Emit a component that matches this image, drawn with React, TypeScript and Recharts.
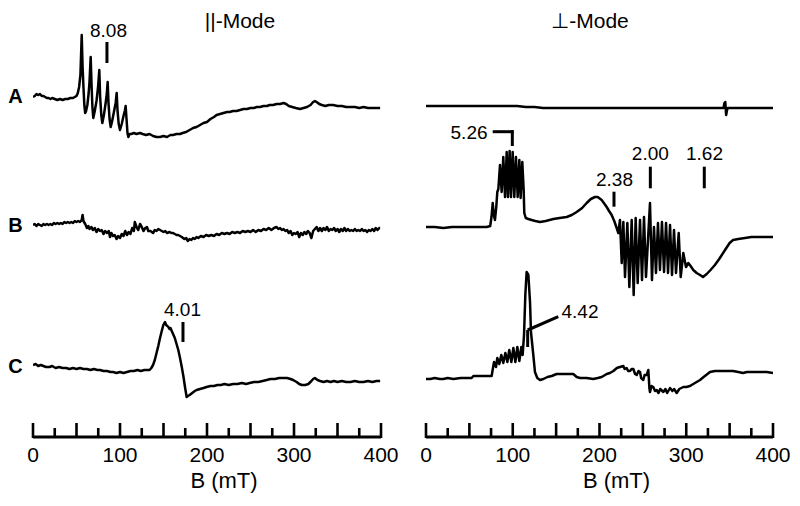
import React from 'react';
import { LineChart, Line, XAxis, YAxis, ReferenceLine, ReferenceDot, Label } from 'recharts';

type Pt = [number, number];

// ---------- axis ----------
const fieldTicks = [0, 25, 50, 75, 100, 125, 150, 175, 200, 225, 250, 275, 300, 325, 350, 375, 400];
const fieldLabels = [0, 100, 200, 300, 400];
const majorTicks = [0, 50, 100, 150, 200, 250, 300, 350, 400];

// ---------- parallel mode traces (B in mT, signal in arbitrary units) ----------
const parA: Pt[] = [
  [0, 0], [2, 1], [4, 3], [6, 2], [8, 3], [10, 1], [12, 1], [14, 0], [16, -1], [18, -1], [20, -2], [22, -1], [25, -2], [28, -3],
  [31, -2], [34, -3], [37, -2], [40, -2], [43, -1], [46, -1], [48, 0], [50, 1], [51.5, 4], [53, 10], [54.5, 22], [56, 62],
  [57, 30], [58, 10], [59, -8], [60, -16], [61, -14], [62.5, -8], [64, 4], [65, 16], [66.3, 40], [67.3, 12], [68.3, -10],
  [69.3, -21], [71, -14], [73, -4], [74.8, 10], [76.2, 27], [77.2, 0], [78.5, -18], [79.7, -26], [81.5, -18], [83.5, -6],
  [84.8, 3], [85.8, 15], [86.8, -6], [88, -22], [89.3, -30], [91, -24], [93, -15], [95, -6], [96.2, 4], [97.2, -14],
  [98.5, -27], [100, -33], [102, -27], [104, -19], [105.5, -14], [106.5, -9], [107.5, -22], [108.6, -36], [109.6, -40],
  [111, -37], [113, -37], [116, -36], [119, -37], [123, -36], [126, -37], [130, -38], [134, -37], [138, -39], [142, -40],
  [146, -40], [150, -39], [154, -40], [158, -38], [161, -38], [165, -37], [169, -37], [172, -36], [176, -35], [180, -33],
  [184, -31], [188, -30], [192, -28], [196, -26], [200, -25], [204, -22], [208, -20], [211, -18], [215, -17], [219, -16],
  [223, -15], [226, -15], [230, -14], [234, -14], [238, -13], [242, -12], [246, -12], [250, -11], [254, -11], [257, -10],
  [261, -10], [265, -9], [269, -9], [272, -8], [276, -8], [280, -7], [284, -7], [288, -6], [291, -7], [294, -9], [298, -10],
  [302, -11], [307, -12], [311, -11], [315, -10], [319, -8], [322, -5], [324, -4], [326, -5], [329, -7], [332, -8], [336, -9],
  [340, -8], [345, -8], [350, -9], [355, -9], [360, -10], [365, -10], [370, -10], [375, -11], [380, -10], [385, -11],
  [390, -11], [395, -11], [399, -11],
];

const parB: Pt[] = [
  [0, 0], [2, 1], [4, -1], [6, 1], [8, 0], [10, -1], [12, 1], [14, 0], [16, 1], [18, 0], [20, 1], [22, 0], [24, 2], [26, 1],
  [28, 2], [30, 1], [32, 2], [34, 1], [36, 3], [38, 2], [40, 3], [42, 2], [44, 3], [46, 2], [48, 4], [50, 3], [52, 4], [54, 3],
  [56, 5], [57, 10], [58, 4], [60, 1], [62, -3], [63.6, -1], [65, -4], [67, -2], [69, -5], [71, -3], [73, -7], [75, -4],
  [77, -6], [79, -5], [81, -9], [83, -6], [85, -8], [87, -6], [88.5, -12], [90, -8], [92, -11], [94, -10], [96, -14], [98, -11],
  [100, -13], [102, -9], [104, -11], [106, -6], [108, -10], [110, -7], [112, -9], [114, -3], [116, -6], [117, 3], [119, -2],
  [121, -5], [123, 1], [125, -2], [127, -6], [129, -3], [131, -2], [132.5, -6], [135, -6], [138, -8], [140, -5], [142, -6],
  [144, -4], [146, -5], [148, -6], [150, -7], [152, -6], [154, -8], [157, -7], [159, -8], [161, -8], [163, -9], [165, -10],
  [167, -10], [169, -11], [171, -12], [174, -14], [176, -13], [178, -16], [180, -14], [182, -15], [184, -13], [186, -14],
  [188, -12], [190, -13], [193, -11], [196, -12], [199, -10], [202, -11], [205, -10], [208, -11], [211, -9], [214, -10],
  [217, -8], [220, -9], [223, -8], [226, -9], [229, -7], [232, -8], [235, -7], [238, -8], [241, -6], [244, -7], [247, -6],
  [250, -7], [253, -5], [256, -7], [259, -5], [262, -6], [265, -4], [268, -5], [271, -3], [274, -5], [277, -3], [280, -2],
  [282, -4], [284, -3], [286, -5], [288, -4], [290, -6], [292, -5], [294, -8], [296, -6], [298, -10], [300, -8], [302, -9],
  [304, -7], [306, -12], [308, -8], [310, -10], [312, -7], [314, -9], [316, -6], [318, -8], [320, -13], [322, -6], [324, -4],
  [326, -2], [328, -6], [330, -3], [332, -6], [334, -3], [336, -5], [338, -2], [340, -6], [342, -4], [344, -5], [346, -3],
  [348, -6], [350, -4], [352, -7], [354, -4], [356, -6], [358, -3], [360, -6], [362, -4], [364, -6], [366, -5], [368, -6],
  [370, -4], [372, -6], [374, -5], [376, -6], [378, -4], [380, -6], [382, -5], [384, -7], [386, -5], [388, -6], [390, -4],
  [392, -6], [394, -3], [396, -5], [398, -3], [399, -3],
];

const parC: Pt[] = [
  [0, 0], [3, 1], [6, -1], [9, 0], [12, -1], [15, -2], [19, -2], [22, -1], [26, -3], [30, -2], [34, -3], [38, -3], [42, -4],
  [46, -3], [50, -4], [54, -3], [58, -4], [62, -4], [66, -5], [70, -4], [74, -5], [77, -5], [81, -6], [85, -6], [89, -7],
  [92, -7], [96, -8], [100, -7], [104, -8], [108, -7], [112, -6], [116, -6], [120, -5], [124, -6], [128, -5], [132, -5],
  [134, -5], [136, -3], [138, 0], [140, 5], [142, 12], [144, 19], [146, 27], [148, 34], [149.8, 40], [151.7, 43], [153, 40],
  [154.5, 39], [155.6, 38], [157, 36], [158, 37], [159, 35], [161, 31], [163, 27], [165, 21], [167, 15], [169, 7], [171, -2],
  [173, -12], [174.7, -22], [176.6, -32], [178, -31], [180, -30], [183, -28], [186, -26], [188, -25], [192, -24], [196, -23],
  [199.5, -22], [204, -21], [208, -21], [212, -20], [216, -20], [220, -19], [225, -20], [230, -19], [235, -19], [240, -18],
  [245, -19], [249, -18], [254, -17], [259, -17], [264, -16], [268.6, -15], [273, -14], [278, -14], [283, -13], [288, -13],
  [292, -13], [296, -14], [299, -15], [303, -17], [306, -19], [309, -20], [313, -20], [316.5, -19], [320, -16], [322, -14],
  [324, -13], [327, -15], [330, -16], [334, -17], [338, -16], [342, -17], [346, -16], [350, -17], [355, -16], [360, -17],
  [365, -17], [370, -16], [375, -17], [380, -17], [385, -16], [390, -17], [395, -16], [399, -16],
];

// ---------- perpendicular mode traces ----------
const perpA: Pt[] = [
  [0, 1], [20, 1], [40, 1], [60, 1], [80, 1], [95, 1], [105, 1], [115, 0], [125, 0], [135, -1], [150, -1], [170, -1],
  [200, -1], [230, -1], [260, -1], [290, -1], [320, -1], [340, -1], [343, -1], [344, 4], [345, 5], [346, -8], [347, -3],
  [348, -1], [360, -1], [380, -1], [400, -1],
];

const perpB: Pt[] = [
  [0, 0], [10, 0], [20, -1], [30, 0], [40, 0], [50, 0], [60, 0], [70, 0], [74, 1], [75.5, 10], [76.9, 24], [78.2, 12],
  [79.5, 7], [81, 20], [82.2, 35], [83.4, 38], [85.3, 62], [87.2, 35], [89.1, 70], [91.1, 30], [93, 75], [94.5, 30],
  [96.4, 76], [98, 30], [99.9, 75], [101.8, 30], [103.7, 70], [105.7, 30], [107.6, 67], [109.1, 29], [111, 65], [112.6, 37],
  [113.3, 14], [115, 9], [118, 8], [121.8, 7], [126, 6], [131.4, 5], [138, 6], [146.8, 8], [154, 9], [162.2, 10], [168, 12],
  [173.7, 15], [180, 19], [185.2, 24], [190, 28], [194.8, 30], [198, 30], [202.5, 27], [205, 24], [208.3, 20], [211, 16],
  [214, 12], [217, 6], [219.8, -1], [221.7, -6], [223.6, 7], [225.6, -36], [227.5, 5], [229.4, -50], [232.1, 4],
  [234.4, -60], [237.1, 7], [239.4, -68], [241.7, 9], [244, -56], [246.7, 7], [249, -53], [251.3, 10], [253.6, -50],
  [258.2, 24], [260.5, -53], [262.8, 0], [265.1, -46], [267.4, 4], [269.7, -43], [272, 5], [274.4, -45], [276.7, 4],
  [279, -46], [281.3, 2], [283.6, -48], [285.9, -3], [288.2, -46], [291.3, -6], [293.6, -50], [296.6, -26], [299.7, -40],
  [302.4, -36], [305, -39], [308.1, -43], [312, -46], [315.9, -48], [319.3, -50], [323.6, -47], [328, -43], [333, -38],
  [338, -32], [344.7, -23], [350, -16], [354, -13], [360, -12], [367.7, -11], [375, -10], [385, -10], [392, -10], [400, -10],
];

const perpC: Pt[] = [
  [0, -1], [5, -1], [10, 0], [16, -1], [20, -1], [25, 0], [31.5, -1], [40, 0], [45, 0], [52.6, 0], [54.6, 2], [60, 2],
  [65, 2], [70, 2], [75.7, 2], [76.8, 8], [78.4, 16], [80.7, 11], [82.2, 20], [84.5, 14], [86.8, 23], [89.1, 15], [91.5, 25],
  [93.8, 16], [96, 28], [98.4, 16], [100.7, 30], [103, 16], [105.3, 31], [107.6, 17], [109.9, 31], [111.4, 23], [113, 43],
  [114.5, 83], [116, 106], [118, 103], [119.9, 76], [121, 46], [123.7, 23], [125.6, 6], [128.3, 0], [131.4, -2], [135.3, -1],
  [140, 1], [144.9, 2], [150.6, 4], [160, 4], [169.8, 4], [173.7, 1], [177.5, 0], [185, 0], [192.9, -1], [198, 0],
  [202.5, 1], [208.3, 4], [212, 5], [216, 7], [220, 10], [223.6, 11], [227.5, 12], [229, 9], [231.3, 10], [233, 7],
  [235.2, 7], [237, 9], [239, 9], [241, 4], [242.9, 3], [245, 7], [246.7, 6], [248, 0], [250.5, -2], [252, 3], [254.4, 3],
  [256.3, 8], [257.5, -10], [258.2, -14], [260, -8], [262, -9], [264, -13], [265.9, -12], [268, -15], [270, -11],
  [273.6, -14], [276, -11], [278, -15], [281.3, -10], [284, -13], [286, -11], [289, -15], [292, -11], [296.6, -9], [300, -9],
  [304.3, -8], [310, -5], [315.9, -2], [320, 1], [327.4, 6], [333, 7], [338.9, 7], [345, 7], [353.9, 7], [360, 6],
  [365.4, 5], [370, 6], [376.9, 6], [385, 6], [392.7, 6], [400, 5],
];

// ---------- annotations (g-values), in data coordinates of their trace ----------
type Seg = { trace: string; from: Pt; to: Pt };
type Note = { trace: string; at: Pt; text: string };

const parSegs: Seg[] = [
  { trace: 'A', from: [85, 34], to: [85, 55] },
  { trace: 'C', from: [172.4, 23], to: [172.4, 43] },
];
const parNotes: Note[] = [
  { trace: 'A', at: [86.8, 67], text: '8.08' },
  { trace: 'C', at: [171.8, 56], text: '4.01' },
];
const perpSegs: Seg[] = [
  { trace: 'B', from: [76.9, 95.3], to: [101, 95.3] },
  { trace: 'B', from: [99.5, 96.8], to: [99.5, 81] },
  { trace: 'B', from: [216.7, 20.3], to: [216.7, 35.3] },
  { trace: 'B', from: [258.6, 38.7], to: [258.6, 60.3] },
  { trace: 'B', from: [320.8, 38.7], to: [320.8, 60.3] },
  { trace: 'C', from: [117.2, 31], to: [117.2, 48] },
  { trace: 'C', from: [117.2, 48], to: [152.5, 61.3] },
];
const perpNotes: Note[] = [
  { trace: 'B', at: [49.6, 94.5], text: '5.26' },
  { trace: 'B', at: [217.3, 48], text: '2.38' },
  { trace: 'B', at: [258.6, 74], text: '2.00' },
  { trace: 'B', at: [321, 74], text: '1.62' },
  { trace: 'C', at: [177.5, 66.3], text: '4.42' },
];

// ---------- layout ----------
const PLOT_BOTTOM = 437;
const FONT = '"Liberation Sans", Arial, Helvetica, sans-serif';

type Trace = { id: string; data: Pt[]; base: number };

const parTraces: Trace[] = [
  { id: 'A', data: parA, base: 97 },
  { id: 'B', data: parB, base: 225 },
  { id: 'C', data: parC, base: 365 },
];
const perpTraces: Trace[] = [
  { id: 'A', data: perpA, base: 107 },
  { id: 'B', data: perpB, base: 227 },
  { id: 'C', data: perpC, base: 378 },
];

function FieldTick(props: any) {
  const { x, y, payload } = props;
  const v = payload.value;
  const len = majorTicks.includes(v) ? 14 : 9;
  return (
    <g>
      <line x1={x} x2={x} y1={y + 1} y2={y - len} stroke="#000" strokeWidth={2.6} />
      {fieldLabels.includes(v) && (
        <text x={x} y={y + 25} textAnchor="middle" fontSize={21} fill="#000" fontFamily={FONT}>
          {v}
        </text>
      )}
    </g>
  );
}

function Panel(props: {
  left: number;
  mLeft: number;
  mRight: number;
  traces: Trace[];
  segs: Seg[];
  notes: Note[];
}) {
  const { left, mLeft, mRight, traces, segs, notes } = props;
  return (
    <div style={{ position: 'absolute', left, top: 0 }}>
      <LineChart width={400} height={506} margin={{ top: 0, right: mRight, bottom: 0, left: mLeft }}>
        <XAxis
          type="number"
          dataKey="b"
          domain={[0, 400]}
          allowDataOverflow
          ticks={fieldTicks}
          interval={0}
          tickSize={0}
          tickMargin={0}
          tickLine={false}
          tick={<FieldTick />}
          axisLine={{ stroke: '#000', strokeWidth: 3 }}
          height={69}
        >
          <Label value="B (mT)" position="insideBottom" offset={18} dx={17} fontSize={22} fill="#000" fontFamily={FONT} />
        </XAxis>
        {traces.map((t) => (
          <YAxis
            key={'y' + t.id}
            yAxisId={t.id}
            hide
            type="number"
            allowDataOverflow
            domain={[-(PLOT_BOTTOM - t.base), t.base]}
          />
        ))}
        {traces.map((t) => (
          <Line
            key={'l' + t.id}
            yAxisId={t.id}
            data={t.data.map(([b, v]) => ({ b, v }))}
            dataKey="v"
            type="linear"
            stroke="#000"
            strokeWidth={2.5}
            strokeLinejoin="round"
            dot={false}
            activeDot={false}
            isAnimationActive={false}
          />
        ))}
        {segs.map((s, i) => (
          <ReferenceLine
            key={'s' + i}
            yAxisId={s.trace}
            segment={[
              { x: s.from[0], y: s.from[1] },
              { x: s.to[0], y: s.to[1] },
            ]}
            stroke="#000"
            strokeWidth={3}
            ifOverflow="visible"
          />
        ))}
        {notes.map((n, i) => (
          <ReferenceDot
            key={'n' + i}
            yAxisId={n.trace}
            x={n.at[0]}
            y={n.at[1]}
            r={0}
            fill="none"
            stroke="none"
            ifOverflow="visible"
            label={{ value: n.text, position: 'center', fontSize: 19, fill: '#000', fontFamily: FONT }}
          />
        ))}
      </LineChart>
    </div>
  );
}

export default function App() {
  return (
    <div
      style={{
        position: 'absolute',
        left: 0,
        top: 0,
        width: 800,
        height: 506,
        background: '#fff',
        fontFamily: FONT,
      }}
    >
      <Panel left={0} mLeft={33} mRight={19} traces={parTraces} segs={parSegs} notes={parNotes} />
      <Panel left={400} mLeft={26} mRight={27} traces={perpTraces} segs={perpSegs} notes={perpNotes} />
      <svg
        width={800}
        height={506}
        style={{ position: 'absolute', left: 0, top: 0, pointerEvents: 'none' }}
        fontFamily={FONT}
      >
        <text x={240} y={28} textAnchor="middle" fontSize={21} fill="#000">
          ||-Mode
        </text>
        <text x={590} y={28} textAnchor="middle" fontSize={21} fill="#000">
          ⊥-Mode
        </text>
        <text x={15.5} y={103} textAnchor="middle" fontSize={20} fontWeight="bold" fill="#000">
          A
        </text>
        <text x={15.5} y={232} textAnchor="middle" fontSize={20} fontWeight="bold" fill="#000">
          B
        </text>
        <text x={15.5} y={373} textAnchor="middle" fontSize={20} fontWeight="bold" fill="#000">
          C
        </text>
      </svg>
    </div>
  );
}
